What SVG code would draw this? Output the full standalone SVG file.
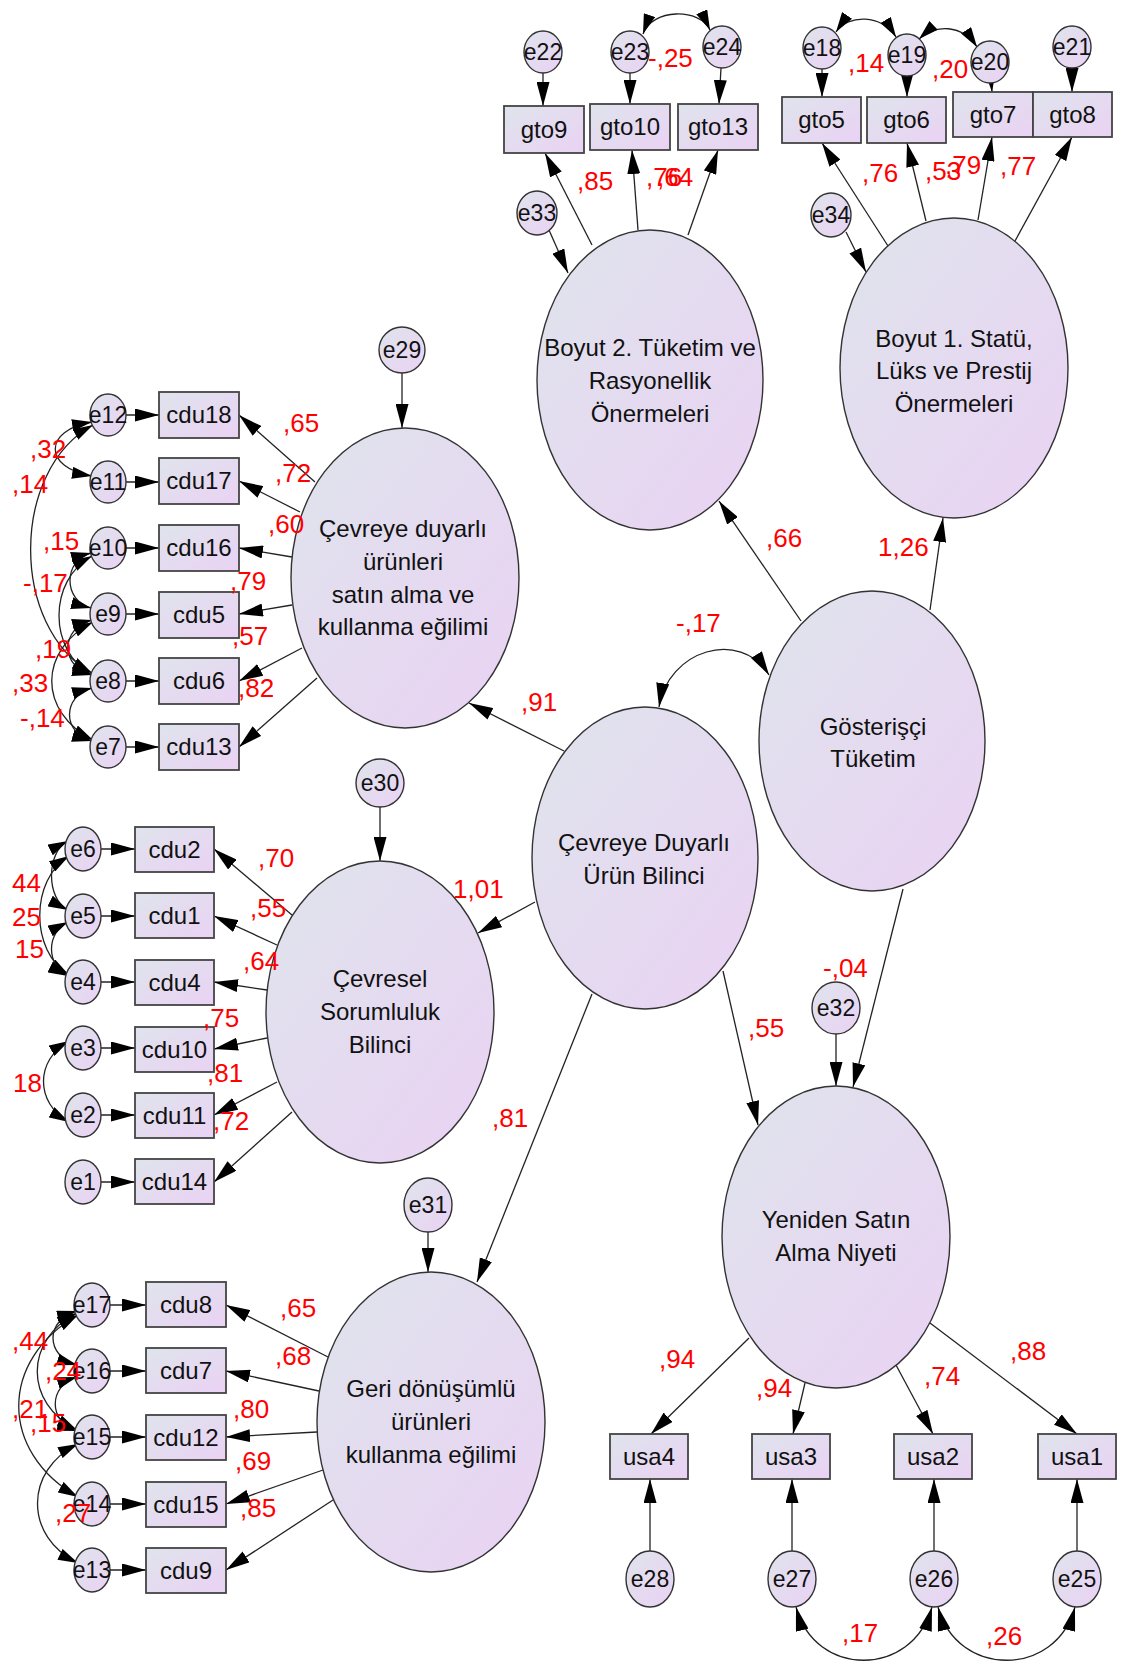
<svg xmlns="http://www.w3.org/2000/svg" width="1121" height="1662" viewBox="0 0 1121 1662">
<defs>
<linearGradient id="g" x1="0" y1="0" x2="1" y2="1">
<stop offset="0" stop-color="#dfe4ec"/>
<stop offset="1" stop-color="#ead2f4"/>
</linearGradient>
<marker id="ah" viewBox="0 0 24 13" markerWidth="24" markerHeight="13" refX="24" refY="6.5" markerUnits="userSpaceOnUse" orient="auto-start-reverse">
<path d="M0,0 L24,6.5 L0,13 z" fill="#000"/>
</marker>
<marker id="as" viewBox="0 0 20 12" markerWidth="20" markerHeight="12" refX="20" refY="6" markerUnits="userSpaceOnUse" orient="auto-start-reverse">
<path d="M0,0 L20,6 L0,12 z" fill="#000"/>
</marker>
</defs>
<style>
.n{fill:url(#g);stroke:#333;stroke-width:1.4}
.o{fill:url(#g);stroke:#444;stroke-width:1.8}
.t{font-family:"Liberation Sans",Arial,sans-serif;font-size:24px;fill:#111;text-anchor:middle}
.s{font-family:"Liberation Sans",Arial,sans-serif;font-size:23px;fill:#111;text-anchor:middle}
.r{font-family:"Liberation Sans",Arial,sans-serif;font-size:26px;fill:#ff0000}
.c path{fill:none;stroke:#222;stroke-width:1.3}
.c .a{marker-end:url(#ah)}
.c .b{marker-start:url(#as);marker-end:url(#as)}
.c .bb{marker-start:url(#ah);marker-end:url(#ah)}
</style>
<rect width="1121" height="1662" fill="#fff"/>

<g id="connectors" class="c">
<path class="a" d="M801 621 L719 501"/>
<path class="a" d="M930 610 L943 518"/>
<path class="a" d="M564 751 L469 703"/>
<path class="a" d="M535 902 L478 933"/>
<path class="a" d="M592 994 L477 1282"/>
<path class="a" d="M723 971 L758 1125"/>
<path class="a" d="M903 889 L853 1087"/>
<path class="bb" d="M659 707 C668 650, 740 628, 769 675"/>
<path class="a" d="M836 1034 L836 1086"/>
<path class="a" d="M402 373 L402 428"/>
<path class="a" d="M380 807 L380 861"/>
<path class="a" d="M428 1232 L428 1272"/>
<path class="a" d="M549 230 L568 273"/>
<path class="a" d="M846 232 L866 272"/>
<path class="a" d="M592 245 L545 153"/>
<path class="a" d="M638 230 L632 150"/>
<path class="a" d="M688 235 L718 150"/>
<path class="a" d="M888 246 L822 143"/>
<path class="a" d="M926 221 L907 143"/>
<path class="a" d="M978 220 L992 137"/>
<path class="a" d="M1015 241 L1072 137"/>
<path class="a" d="M543 73 L543 106"/>
<path class="a" d="M630 73 L630 104"/>
<path class="a" d="M721 68 L719 104"/>
<path class="a" d="M822 69 L822 97"/>
<path class="a" d="M907 76 L907 97"/>
<path class="a" d="M991 80 L992 92"/>
<path class="a" d="M1072 68 L1072 92"/>
<path class="b" d="M643 34 C652 8, 700 8, 710 30"/>
<path class="b" d="M836 32 C848 14, 882 14, 896 37"/>
<path class="b" d="M919 39 C935 24, 962 24, 977 47"/>
<path class="a" d="M315 482 L239 415"/>
<path class="a" d="M300 512 L239 481"/>
<path class="a" d="M292 557 L239 548"/>
<path class="a" d="M292 605 L239 614"/>
<path class="a" d="M302 648 L239 681"/>
<path class="a" d="M317 678 L239 747"/>
<path class="a" d="M126 415 L159 415"/>
<path class="a" d="M126 482 L159 482"/>
<path class="a" d="M126 548 L159 548"/>
<path class="a" d="M126 614 L159 614"/>
<path class="a" d="M126 681 L159 681"/>
<path class="a" d="M126 747 L159 747"/>
<path class="b" d="M92 422 C43 430, 43 468, 92 476"/>
<path class="b" d="M93 425 C10 470, 10 628, 92 673"/>
<path class="b" d="M91 553 C63 560, 63 601, 91 608"/>
<path class="b" d="M92 556 C48 580, 48 651, 92 675"/>
<path class="b" d="M92 620 C60 628, 60 667, 92 675"/>
<path class="b" d="M93 622 C38 650, 38 712, 93 740"/>
<path class="b" d="M92 688 C62 696, 62 733, 92 741"/>
<path class="a" d="M292 915 L214 849"/>
<path class="a" d="M277 945 L214 916"/>
<path class="a" d="M267 990 L214 982"/>
<path class="a" d="M267 1038 L214 1049"/>
<path class="a" d="M277 1082 L214 1115"/>
<path class="a" d="M292 1112 L214 1182"/>
<path class="a" d="M101 849 L135 849"/>
<path class="a" d="M101 916 L135 916"/>
<path class="a" d="M101 982 L135 982"/>
<path class="a" d="M101 1048 L135 1048"/>
<path class="a" d="M101 1115 L135 1115"/>
<path class="a" d="M101 1182 L135 1182"/>
<path class="b" d="M68 841 C46 852, 46 899, 68 910"/>
<path class="b" d="M69 856 C30 880, 30 951, 69 975"/>
<path class="b" d="M68 922 C46 933, 46 965, 68 976"/>
<path class="b" d="M69 1041 C35 1060, 35 1103, 69 1122"/>
<path class="a" d="M328 1357 L226 1305"/>
<path class="a" d="M319 1391 L226 1371"/>
<path class="a" d="M317 1432 L226 1437"/>
<path class="a" d="M323 1470 L226 1504"/>
<path class="a" d="M333 1500 L226 1570"/>
<path class="a" d="M110 1305 L146 1305"/>
<path class="a" d="M110 1371 L146 1371"/>
<path class="a" d="M110 1437 L146 1437"/>
<path class="a" d="M110 1504 L146 1504"/>
<path class="a" d="M110 1570 L146 1570"/>
<path class="b" d="M77 1311 C45 1320, 45 1356, 77 1365"/>
<path class="b" d="M77 1313 C24 1340, 24 1403, 77 1430"/>
<path class="b" d="M78 1315 C-1 1360, -1 1452, 78 1497"/>
<path class="b" d="M77 1377 C48 1386, 48 1422, 77 1431"/>
<path class="b" d="M78 1444 C24 1470, 24 1537, 78 1563"/>
<path class="a" d="M749 1338 L651 1434"/>
<path class="a" d="M805 1383 L793 1434"/>
<path class="a" d="M896 1365 L933 1434"/>
<path class="a" d="M930 1323 L1077 1434"/>
<path class="a" d="M650 1551 L650 1479"/>
<path class="a" d="M792 1551 L792 1479"/>
<path class="a" d="M934 1551 L934 1479"/>
<path class="a" d="M1077 1551 L1077 1479"/>
<path class="bb" d="M796 1607 C815 1678, 912 1678, 932 1607"/>
<path class="bb" d="M938 1607 C957 1678, 1056 1678, 1075 1607"/>
</g>

<g id="boyut2"><ellipse class="n" cx="650" cy="380" rx="113" ry="150"/><text class="t" x="650" y="356">Boyut 2. Tüketim ve</text><text class="t" x="650" y="389">Rasyonellik</text><text class="t" x="650" y="422">Önermeleri</text></g>
<g id="boyut1"><ellipse class="n" cx="954" cy="368" rx="114" ry="150"/><text class="t" x="954" y="347">Boyut 1. Statü,</text><text class="t" x="954" y="379">Lüks ve Prestij</text><text class="t" x="954" y="412">Önermeleri</text></g>
<g id="cdu_egilim"><ellipse class="n" cx="405" cy="578" rx="114" ry="150"/><text class="t" x="403" y="537">Çevreye duyarlı</text><text class="t" x="403" y="570">ürünleri</text><text class="t" x="403" y="603">satın alma ve</text><text class="t" x="403" y="635">kullanma eğilimi</text></g>
<g id="cevresel"><ellipse class="n" cx="380" cy="1012" rx="114" ry="151"/><text class="t" x="380" y="987">Çevresel</text><text class="t" x="380" y="1020">Sorumluluk</text><text class="t" x="380" y="1053">Bilinci</text></g>
<g id="geri"><ellipse class="n" cx="431" cy="1422" rx="114" ry="150"/><text class="t" x="431" y="1397">Geri dönüşümlü</text><text class="t" x="431" y="1430">ürünleri</text><text class="t" x="431" y="1463">kullanma eğilimi</text></g>
<g id="cdub"><ellipse class="n" cx="645" cy="858" rx="113" ry="151"/><text class="t" x="644" y="851">Çevreye Duyarlı</text><text class="t" x="644" y="884">Ürün Bilinci</text></g>
<g id="gosterisci"><ellipse class="n" cx="872" cy="741" rx="113" ry="150"/><text class="t" x="873" y="735">Gösterişçi</text><text class="t" x="873" y="767">Tüketim</text></g>
<g id="yeniden"><ellipse class="n" cx="836" cy="1237" rx="114" ry="151"/><text class="t" x="836" y="1228">Yeniden Satın</text><text class="t" x="836" y="1261">Alma Niyeti</text></g>

<g id="gto9"><rect class="o" x="504" y="106" width="80" height="47"/><text class="t" x="544" y="138">gto9</text></g>
<g id="gto10"><rect class="o" x="590" y="104" width="80" height="46"/><text class="t" x="630" y="135">gto10</text></g>
<g id="gto13"><rect class="o" x="678" y="104" width="80" height="46"/><text class="t" x="718" y="135">gto13</text></g>
<g id="gto5"><rect class="o" x="782" y="97" width="79" height="46"/><text class="t" x="821.5" y="128">gto5</text></g>
<g id="gto6"><rect class="o" x="867" y="97" width="79" height="46"/><text class="t" x="906.5" y="128">gto6</text></g>
<g id="gto7"><rect class="o" x="953" y="92" width="80" height="45"/><text class="t" x="993" y="123">gto7</text></g>
<g id="gto8"><rect class="o" x="1033" y="92" width="79" height="45"/><text class="t" x="1072.5" y="123">gto8</text></g>

<g id="cdu18"><rect class="o" x="159" y="392" width="80" height="46"/><text class="t" x="199" y="423">cdu18</text></g>
<g id="cdu17"><rect class="o" x="159" y="458" width="80" height="46"/><text class="t" x="199" y="489">cdu17</text></g>
<g id="cdu16"><rect class="o" x="159" y="525" width="80" height="46"/><text class="t" x="199" y="556">cdu16</text></g>
<g id="cdu5"><rect class="o" x="159" y="592" width="80" height="46"/><text class="t" x="199" y="623">cdu5</text></g>
<g id="cdu6"><rect class="o" x="159" y="658" width="80" height="46"/><text class="t" x="199" y="689">cdu6</text></g>
<g id="cdu13"><rect class="o" x="159" y="724" width="80" height="46"/><text class="t" x="199" y="755">cdu13</text></g>
<g id="cdu2"><rect class="o" x="135" y="827" width="79" height="45"/><text class="t" x="174.5" y="858">cdu2</text></g>
<g id="cdu1"><rect class="o" x="135" y="893" width="79" height="45"/><text class="t" x="174.5" y="924">cdu1</text></g>
<g id="cdu4"><rect class="o" x="135" y="960" width="79" height="45"/><text class="t" x="174.5" y="991">cdu4</text></g>
<g id="cdu10"><rect class="o" x="135" y="1027" width="79" height="45"/><text class="t" x="174.5" y="1058">cdu10</text></g>
<g id="cdu11"><rect class="o" x="135" y="1093" width="79" height="45"/><text class="t" x="174.5" y="1124">cdu11</text></g>
<g id="cdu14"><rect class="o" x="135" y="1159" width="79" height="45"/><text class="t" x="174.5" y="1190">cdu14</text></g>
<g id="cdu8"><rect class="o" x="146" y="1282" width="80" height="45"/><text class="t" x="186" y="1313">cdu8</text></g>
<g id="cdu7"><rect class="o" x="146" y="1348" width="80" height="45"/><text class="t" x="186" y="1379">cdu7</text></g>
<g id="cdu12"><rect class="o" x="146" y="1415" width="80" height="45"/><text class="t" x="186" y="1446">cdu12</text></g>
<g id="cdu15"><rect class="o" x="146" y="1482" width="80" height="45"/><text class="t" x="186" y="1513">cdu15</text></g>
<g id="cdu9"><rect class="o" x="146" y="1548" width="80" height="45"/><text class="t" x="186" y="1579">cdu9</text></g>
<g id="usa4"><rect class="o" x="610" y="1434" width="78" height="45"/><text class="t" x="649" y="1465">usa4</text></g>
<g id="usa3"><rect class="o" x="752" y="1434" width="78" height="45"/><text class="t" x="791" y="1465">usa3</text></g>
<g id="usa2"><rect class="o" x="894" y="1434" width="78" height="45"/><text class="t" x="933" y="1465">usa2</text></g>
<g id="usa1"><rect class="o" x="1038" y="1434" width="78" height="45"/><text class="t" x="1077" y="1465">usa1</text></g>

<g id="e22"><ellipse class="n" cx="543" cy="52" rx="19" ry="21"/><text class="s" x="543" y="60">e22</text></g>
<g id="e23"><ellipse class="n" cx="630" cy="52" rx="19" ry="21"/><text class="s" x="630" y="60">e23</text></g>
<g id="e24"><ellipse class="n" cx="722" cy="47" rx="19" ry="21"/><text class="s" x="722" y="55">e24</text></g>
<g id="e18"><ellipse class="n" cx="822" cy="48" rx="19" ry="21"/><text class="s" x="822" y="56">e18</text></g>
<g id="e19"><ellipse class="n" cx="907" cy="55" rx="19" ry="21"/><text class="s" x="907" y="63">e19</text></g>
<g id="e20"><ellipse class="n" cx="990" cy="62" rx="19" ry="21"/><text class="s" x="990" y="70">e20</text></g>
<g id="e21"><ellipse class="n" cx="1072" cy="47" rx="19" ry="21"/><text class="s" x="1072" y="55">e21</text></g>
<g id="e33"><ellipse class="n" cx="537" cy="213" rx="20" ry="22"/><text class="s" x="537" y="221">e33</text></g>
<g id="e34"><ellipse class="n" cx="831" cy="215" rx="20" ry="22"/><text class="s" x="831" y="223">e34</text></g>
<g id="e29"><ellipse class="n" cx="402" cy="350" rx="23" ry="23"/><text class="s" x="402" y="358">e29</text></g>
<g id="e30"><ellipse class="n" cx="380" cy="783" rx="24" ry="24"/><text class="s" x="380" y="791">e30</text></g>
<g id="e31"><ellipse class="n" cx="428" cy="1205" rx="24" ry="27"/><text class="s" x="428" y="1213">e31</text></g>
<g id="e32"><ellipse class="n" cx="836" cy="1008" rx="24" ry="26"/><text class="s" x="836" y="1016">e32</text></g>
<g id="e12"><ellipse class="n" cx="108" cy="415" rx="18" ry="21"/><text class="s" x="108" y="423">e12</text></g>
<g id="e11"><ellipse class="n" cx="108" cy="482" rx="18" ry="21"/><text class="s" x="108" y="490">e11</text></g>
<g id="e10"><ellipse class="n" cx="108" cy="548" rx="18" ry="21"/><text class="s" x="108" y="556">e10</text></g>
<g id="e9"><ellipse class="n" cx="108" cy="614" rx="18" ry="21"/><text class="s" x="108" y="622">e9</text></g>
<g id="e8"><ellipse class="n" cx="108" cy="681" rx="18" ry="21"/><text class="s" x="108" y="689">e8</text></g>
<g id="e7"><ellipse class="n" cx="108" cy="747" rx="18" ry="21"/><text class="s" x="108" y="755">e7</text></g>
<g id="e6"><ellipse class="n" cx="83" cy="849" rx="18" ry="22"/><text class="s" x="83" y="857">e6</text></g>
<g id="e5"><ellipse class="n" cx="83" cy="916" rx="18" ry="22"/><text class="s" x="83" y="924">e5</text></g>
<g id="e4"><ellipse class="n" cx="83" cy="982" rx="18" ry="22"/><text class="s" x="83" y="990">e4</text></g>
<g id="e3"><ellipse class="n" cx="83" cy="1048" rx="18" ry="22"/><text class="s" x="83" y="1056">e3</text></g>
<g id="e2"><ellipse class="n" cx="83" cy="1115" rx="18" ry="22"/><text class="s" x="83" y="1123">e2</text></g>
<g id="e1"><ellipse class="n" cx="83" cy="1182" rx="18" ry="22"/><text class="s" x="83" y="1190">e1</text></g>
<g id="e17"><ellipse class="n" cx="92" cy="1305" rx="18" ry="22"/><text class="s" x="92" y="1313">e17</text></g>
<g id="e16"><ellipse class="n" cx="92" cy="1371" rx="18" ry="22"/><text class="s" x="92" y="1379">e16</text></g>
<g id="e15"><ellipse class="n" cx="92" cy="1437" rx="18" ry="22"/><text class="s" x="92" y="1445">e15</text></g>
<g id="e14"><ellipse class="n" cx="92" cy="1504" rx="18" ry="22"/><text class="s" x="92" y="1512">e14</text></g>
<g id="e13"><ellipse class="n" cx="92" cy="1570" rx="18" ry="22"/><text class="s" x="92" y="1578">e13</text></g>
<g id="e28"><ellipse class="n" cx="650" cy="1579" rx="24" ry="28"/><text class="s" x="650" y="1587">e28</text></g>
<g id="e27"><ellipse class="n" cx="792" cy="1579" rx="24" ry="28"/><text class="s" x="792" y="1587">e27</text></g>
<g id="e26"><ellipse class="n" cx="934" cy="1579" rx="24" ry="28"/><text class="s" x="934" y="1587">e26</text></g>
<g id="e25"><ellipse class="n" cx="1077" cy="1579" rx="24" ry="28"/><text class="s" x="1077" y="1587">e25</text></g>

<g id="labels">
<text class="r" x="577" y="190">,85</text>
<text class="r" x="646" y="186">,76</text>
<text class="r" x="657" y="186">,64</text>
<text class="r" x="648" y="67">-,25</text>
<text class="r" x="848" y="72">,14</text>
<text class="r" x="932" y="78">,20</text>
<text class="r" x="862" y="182">,76</text>
<text class="r" x="925" y="180">,53</text>
<text class="r" x="945" y="174">,79</text>
<text class="r" x="1000" y="175">,77</text>
<text class="r" x="766" y="547">,66</text>
<text class="r" x="878" y="556">1,26</text>
<text class="r" x="676" y="632">-,17</text>
<text class="r" x="521" y="711">,91</text>
<text class="r" x="453" y="898">1,01</text>
<text class="r" x="748" y="1037">,55</text>
<text class="r" x="823" y="977">-,04</text>
<text class="r" x="492" y="1127">,81</text>
<text class="r" x="283" y="432">,65</text>
<text class="r" x="275" y="482">,72</text>
<text class="r" x="268" y="533">,60</text>
<text class="r" x="230" y="590">,79</text>
<text class="r" x="232" y="645">,57</text>
<text class="r" x="238" y="697">,82</text>
<text class="r" x="30" y="458">,32</text>
<text class="r" x="12" y="493">,14</text>
<text class="r" x="43" y="550">,15</text>
<text class="r" x="23" y="592">-,17</text>
<text class="r" x="35" y="658">,19</text>
<text class="r" x="12" y="692">,33</text>
<text class="r" x="20" y="727">-,14</text>
<text class="r" x="258" y="867">,70</text>
<text class="r" x="250" y="917">,55</text>
<text class="r" x="243" y="970">,64</text>
<text class="r" x="203" y="1027">,75</text>
<text class="r" x="207" y="1082">,81</text>
<text class="r" x="213" y="1130">,72</text>
<text class="r" x="12" y="892">44</text>
<text class="r" x="12" y="926">25</text>
<text class="r" x="15" y="958">15</text>
<text class="r" x="13" y="1092">18</text>
<text class="r" x="280" y="1317">,65</text>
<text class="r" x="275" y="1365">,68</text>
<text class="r" x="233" y="1418">,80</text>
<text class="r" x="235" y="1470">,69</text>
<text class="r" x="240" y="1517">,85</text>
<text class="r" x="12" y="1350">,44</text>
<text class="r" x="45" y="1380">,24</text>
<text class="r" x="12" y="1418">,21</text>
<text class="r" x="30" y="1432">,15</text>
<text class="r" x="55" y="1522">,27</text>
<text class="r" x="659" y="1368">,94</text>
<text class="r" x="756" y="1397">,94</text>
<text class="r" x="924" y="1385">,74</text>
<text class="r" x="1010" y="1360">,88</text>
<text class="r" x="842" y="1642">,17</text>
<text class="r" x="986" y="1645">,26</text>
</g>
</svg>
